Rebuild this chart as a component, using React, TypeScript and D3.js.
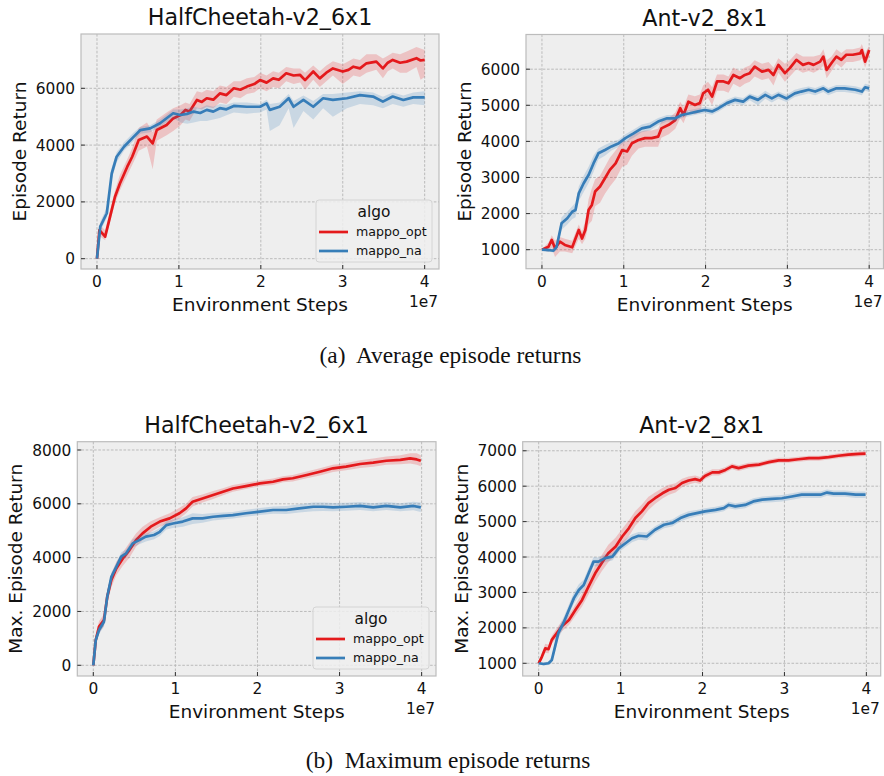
import React from 'react';
import * as d3 from 'd3';

type Row = [number, number, number, number]; // [env steps (1e7), mean, lower, upper]

// ---------- data ----------
const seriesNames = ['mappo_opt', 'mappo_na'];
const seriesColors = ['#e41a1c', '#377eb8'];
const xTicks = [0, 1, 2, 3, 4];
const hcAvgTicks = [0, 2000, 4000, 6000];
const antAvgTicks = [1000, 2000, 3000, 4000, 5000, 6000];
const hcMaxTicks = [0, 2000, 4000, 6000, 8000];
const antMaxTicks = [1000, 2000, 3000, 4000, 5000, 6000, 7000];

const hcAvgOpt: Row[] = [
  [0, 0, 0, 0], [0.03, 1010, 800, 1200], [0.10, 775, 650, 1000], [0.16, 1480, 1300, 1700],
  [0.22, 2180, 1950, 2400], [0.28, 2650, 2400, 2950], [0.37, 3240, 2950, 3500], [0.43, 3590, 3300, 3900],
  [0.51, 4180, 3800, 4600], [0.61, 4300, 3950, 4800], [0.68, 4060, 3150, 4450], [0.73, 4530, 4150, 4900],
  [0.85, 4710, 4350, 5150], [0.93, 4940, 4500, 5300], [1.02, 5060, 4700, 5400], [1.08, 5240, 4900, 5500],
  [1.13, 5180, 4850, 5450], [1.22, 5590, 5300, 5900], [1.28, 5520, 5250, 5850], [1.34, 5650, 5350, 5950],
  [1.42, 5600, 5300, 5900], [1.50, 5820, 5500, 6100], [1.58, 5760, 5450, 6050], [1.67, 6000, 5700, 6250],
  [1.75, 5950, 5650, 6250], [1.83, 6060, 5800, 6350], [1.92, 6150, 5850, 6400], [1.99, 6290, 6000, 6550],
  [2.07, 6200, 5900, 6450], [2.15, 6350, 6050, 6600], [2.22, 6300, 6000, 6550], [2.31, 6530, 6250, 6750],
  [2.40, 6450, 6150, 6700], [2.48, 6470, 6200, 6700], [2.54, 6290, 5950, 6550], [2.64, 6590, 6300, 6800],
  [2.72, 6350, 6050, 6600], [2.80, 6550, 6250, 6800], [2.88, 6700, 6450, 6950], [3.00, 6590, 6150, 6850],
  [3.07, 6650, 6300, 6950], [3.13, 6760, 6450, 7050], [3.21, 6700, 6400, 7000], [3.29, 6880, 6550, 7200],
  [3.41, 6940, 6650, 7200], [3.49, 6700, 6350, 7050], [3.55, 6900, 6600, 7150], [3.61, 7000, 6700, 7250],
  [3.70, 6900, 6550, 7200], [3.78, 6940, 6550, 7300], [3.90, 7060, 6750, 7450], [3.95, 6980, 6300, 7400],
  [4.0, 7000, 6400, 7350],
];
const hcAvgNa: Row[] = [
  [0, 0, 0, 0], [0.04, 1130, 950, 1300], [0.12, 1600, 1450, 1800], [0.18, 3000, 2800, 3200],
  [0.24, 3590, 3400, 3750], [0.33, 3940, 3800, 4100], [0.45, 4300, 4150, 4450], [0.53, 4530, 4400, 4650],
  [0.65, 4590, 4450, 4700], [0.77, 4770, 4650, 4900], [0.93, 5120, 4950, 5250], [1.02, 5060, 4800, 5250],
  [1.10, 5100, 4750, 5300], [1.18, 5180, 4800, 5350], [1.26, 5130, 4850, 5300], [1.34, 5240, 4850, 5400],
  [1.42, 5180, 4900, 5350], [1.50, 5300, 4950, 5450], [1.58, 5260, 5050, 5420], [1.67, 5380, 5150, 5500],
  [1.83, 5350, 5100, 5500], [1.99, 5350, 5150, 5450], [2.07, 5470, 5250, 5600], [2.11, 5240, 4500, 5450],
  [2.23, 5350, 4700, 5500], [2.34, 5650, 5300, 5800], [2.40, 5350, 4600, 5550], [2.52, 5590, 5200, 5750],
  [2.64, 5350, 4900, 5550], [2.76, 5650, 5300, 5800], [2.88, 5590, 5000, 5800], [3.05, 5650, 5300, 5850],
  [3.21, 5760, 5450, 5900], [3.37, 5710, 5400, 5850], [3.49, 5530, 5300, 5700], [3.61, 5710, 5450, 5850],
  [3.74, 5590, 5350, 5750], [3.86, 5680, 5450, 5850], [4.0, 5680, 5400, 5900],
];

const antAvgOpt: Row[] = [
  [0, 1000, 980, 1020], [0.08, 1080, 950, 1200], [0.12, 1270, 1050, 1400], [0.16, 1040, 800, 1250],
  [0.22, 1220, 950, 1350], [0.28, 1130, 950, 1300], [0.37, 1065, 900, 1250], [0.45, 1545, 1300, 1700],
  [0.49, 1310, 1150, 1500], [0.53, 1545, 1300, 1800], [0.57, 2100, 1700, 2400], [0.61, 2240, 1800, 2700],
  [0.65, 2610, 2200, 2950], [0.71, 2750, 2300, 3050], [0.77, 2980, 2550, 3300], [0.83, 3210, 2750, 3550],
  [0.90, 3390, 2950, 3750], [0.98, 3760, 3300, 4000], [1.04, 3720, 3350, 4000], [1.10, 3950, 3600, 4200],
  [1.18, 4040, 3800, 4250], [1.26, 4090, 3850, 4300], [1.34, 4090, 3850, 4300], [1.42, 4130, 3850, 4350],
  [1.46, 4360, 4100, 4550], [1.55, 4460, 4200, 4650], [1.63, 4590, 4350, 4800], [1.69, 4920, 4650, 5100],
  [1.73, 4730, 4500, 4950], [1.79, 5100, 4850, 5300], [1.87, 5010, 4750, 5250], [1.93, 5060, 4800, 5300],
  [1.97, 5330, 5100, 5550], [2.03, 5430, 5200, 5650], [2.08, 5240, 5000, 5500], [2.14, 5660, 5400, 5850],
  [2.22, 5660, 5400, 5850], [2.28, 5610, 5350, 5800], [2.34, 5840, 5600, 6050], [2.42, 5750, 5500, 5950],
  [2.48, 5840, 5600, 6050], [2.54, 5890, 5650, 6100], [2.60, 6070, 5800, 6250], [2.69, 5930, 5700, 6150],
  [2.77, 5980, 5750, 6200], [2.83, 5840, 5550, 6050], [2.89, 6120, 5900, 6300], [2.97, 5890, 5650, 6150],
  [3.03, 6030, 5800, 6250], [3.11, 6260, 6000, 6450], [3.19, 6120, 5900, 6350], [3.26, 6170, 5950, 6350],
  [3.32, 6120, 5900, 6350], [3.40, 6210, 6000, 6400], [3.44, 6350, 6100, 6550], [3.48, 5980, 5750, 6250],
  [3.54, 6170, 5950, 6350], [3.60, 6350, 6150, 6550], [3.66, 6260, 6050, 6450], [3.72, 6400, 6200, 6550],
  [3.80, 6400, 6200, 6550], [3.89, 6440, 6250, 6600], [3.91, 6530, 6300, 6700], [3.95, 6210, 6050, 6450],
  [4.0, 6530, 6350, 6650],
];
const antAvgNa: Row[] = [
  [0, 1000, 980, 1020], [0.08, 990, 950, 1030], [0.14, 970, 920, 1020], [0.18, 1080, 1000, 1200],
  [0.24, 1730, 1550, 1900], [0.31, 1870, 1700, 2050], [0.37, 2050, 1850, 2200], [0.41, 2100, 1900, 2300],
  [0.45, 2560, 2350, 2750], [0.51, 2840, 2600, 3050], [0.57, 3070, 2850, 3300], [0.63, 3390, 3150, 3600],
  [0.69, 3670, 3500, 3800], [0.77, 3760, 3600, 3900], [0.85, 3860, 3750, 3980], [0.94, 3950, 3850, 4050],
  [1.02, 4090, 3980, 4200], [1.12, 4220, 4100, 4330], [1.22, 4360, 4250, 4470], [1.32, 4410, 4300, 4520],
  [1.42, 4550, 4450, 4650], [1.53, 4640, 4550, 4730], [1.63, 4640, 4550, 4730], [1.71, 4730, 4650, 4820],
  [1.81, 4780, 4700, 4870], [1.91, 4830, 4750, 4920], [1.99, 4870, 4780, 4960], [2.08, 4830, 4740, 4920],
  [2.16, 4920, 4830, 5010], [2.26, 5060, 4970, 5150], [2.36, 5150, 5050, 5240], [2.46, 5100, 5000, 5200],
  [2.54, 5240, 5140, 5330], [2.64, 5150, 5000, 5250], [2.73, 5290, 5180, 5400], [2.81, 5190, 5080, 5290],
  [2.89, 5290, 5180, 5380], [2.99, 5190, 5090, 5290], [3.09, 5330, 5230, 5430], [3.17, 5380, 5280, 5480],
  [3.26, 5430, 5330, 5520], [3.34, 5380, 5280, 5480], [3.44, 5470, 5370, 5560], [3.50, 5380, 5280, 5480],
  [3.60, 5470, 5370, 5560], [3.70, 5470, 5370, 5560], [3.83, 5430, 5330, 5530], [3.91, 5380, 5280, 5480],
  [3.95, 5500, 5400, 5600], [4.0, 5470, 5370, 5570],
];

const hcMaxOpt: Row[] = [
  [0, 0, 0, 0], [0.03, 940, 750, 1150], [0.07, 1440, 1200, 1650], [0.13, 1680, 1450, 1900],
  [0.17, 2550, 2300, 2800], [0.22, 3170, 2900, 3400], [0.28, 3600, 3350, 3850], [0.36, 3970, 3700, 4200],
  [0.44, 4280, 4000, 4550], [0.52, 4650, 4400, 4900], [0.60, 4900, 4650, 5150], [0.70, 5150, 4950, 5350],
  [0.81, 5340, 5150, 5500], [0.93, 5460, 5300, 5650], [1.05, 5650, 5450, 5850], [1.13, 5830, 5650, 6000],
  [1.21, 6080, 5900, 6250], [1.33, 6200, 6050, 6350], [1.46, 6330, 6180, 6480], [1.58, 6450, 6320, 6580],
  [1.70, 6570, 6450, 6700], [1.86, 6660, 6550, 6780], [2.03, 6760, 6650, 6870], [2.19, 6820, 6700, 6940],
  [2.31, 6910, 6800, 7020], [2.43, 6950, 6830, 7070], [2.60, 7070, 6950, 7200], [2.76, 7190, 7050, 7320],
  [2.92, 7320, 7180, 7450], [3.08, 7380, 7250, 7520], [3.25, 7480, 7330, 7620], [3.41, 7530, 7380, 7680],
  [3.57, 7600, 7450, 7760], [3.74, 7630, 7470, 7800], [3.86, 7690, 7500, 7880], [3.94, 7650, 7450, 7880],
  [3.99, 7600, 7400, 7800],
];
const hcMaxNa: Row[] = [
  [0, 0, 0, 0], [0.03, 940, 800, 1100], [0.07, 1310, 1150, 1450], [0.13, 1620, 1450, 1800],
  [0.17, 2550, 2350, 2750], [0.22, 3290, 3100, 3450], [0.28, 3660, 3500, 3800], [0.34, 4040, 3900, 4200],
  [0.40, 4160, 4000, 4300], [0.48, 4530, 4380, 4680], [0.56, 4650, 4500, 4800], [0.64, 4780, 4600, 4900],
  [0.74, 4840, 4680, 4980], [0.81, 4960, 4800, 5100], [0.89, 5210, 5050, 5350], [0.97, 5270, 5100, 5420],
  [1.09, 5340, 5150, 5500], [1.21, 5460, 5250, 5650], [1.33, 5460, 5300, 5620], [1.46, 5520, 5380, 5660],
  [1.58, 5550, 5420, 5680], [1.70, 5580, 5450, 5700], [1.86, 5650, 5520, 5780], [2.03, 5710, 5580, 5840],
  [2.19, 5770, 5630, 5900], [2.35, 5770, 5620, 5920], [2.51, 5830, 5680, 5980], [2.68, 5890, 5720, 6050],
  [2.80, 5890, 5730, 6050], [2.92, 5870, 5720, 6030], [3.08, 5890, 5740, 6040], [3.25, 5920, 5770, 6070],
  [3.41, 5870, 5720, 6020], [3.57, 5920, 5770, 6070], [3.74, 5870, 5720, 6020], [3.90, 5920, 5760, 6080],
  [3.99, 5870, 5700, 6050],
];

const antMaxOpt: Row[] = [
  [0, 1000, 980, 1020], [0.04, 1190, 1100, 1300], [0.08, 1420, 1300, 1550], [0.12, 1400, 1280, 1520],
  [0.16, 1660, 1550, 1780], [0.22, 1850, 1720, 1980], [0.28, 2040, 1900, 2180], [0.37, 2220, 2080, 2360],
  [0.45, 2510, 2350, 2670], [0.53, 2790, 2600, 2980], [0.61, 3170, 2950, 3380], [0.69, 3540, 3300, 3760],
  [0.77, 3830, 3600, 4060], [0.85, 4110, 3850, 4350], [0.94, 4300, 4050, 4550], [1.02, 4580, 4350, 4800],
  [1.10, 4810, 4580, 5030], [1.18, 5100, 4880, 5300], [1.26, 5290, 5080, 5480], [1.34, 5520, 5330, 5700],
  [1.42, 5660, 5500, 5820], [1.51, 5800, 5650, 5950], [1.59, 5900, 5760, 6040], [1.67, 5950, 5820, 6080],
  [1.75, 6090, 5970, 6210], [1.83, 6160, 6050, 6270], [1.91, 6200, 6100, 6300], [1.97, 6160, 6060, 6260],
  [2.03, 6290, 6200, 6380], [2.12, 6390, 6300, 6480], [2.20, 6390, 6300, 6480], [2.28, 6460, 6380, 6540],
  [2.36, 6560, 6480, 6640], [2.44, 6510, 6430, 6590], [2.56, 6580, 6500, 6660], [2.69, 6610, 6540, 6680],
  [2.81, 6680, 6610, 6750], [2.93, 6730, 6660, 6800], [3.05, 6730, 6660, 6800], [3.17, 6760, 6690, 6830],
  [3.30, 6790, 6720, 6860], [3.42, 6790, 6720, 6860], [3.54, 6820, 6750, 6890], [3.66, 6860, 6790, 6930],
  [3.78, 6890, 6820, 6960], [3.91, 6910, 6840, 6980], [3.99, 6920, 6850, 6990],
];
const antMaxNa: Row[] = [
  [0, 1000, 980, 1020], [0.06, 980, 940, 1020], [0.12, 1000, 950, 1050], [0.16, 1090, 1000, 1200],
  [0.20, 1470, 1330, 1600], [0.24, 1850, 1700, 2000], [0.31, 2180, 2030, 2330], [0.37, 2510, 2350, 2670],
  [0.43, 2840, 2680, 3000], [0.49, 3070, 2900, 3230], [0.55, 3210, 3060, 3360], [0.61, 3540, 3380, 3700],
  [0.67, 3870, 3730, 4000], [0.73, 3870, 3750, 3990], [0.81, 3970, 3860, 4080], [0.90, 4010, 3900, 4120],
  [0.98, 4250, 4140, 4360], [1.06, 4390, 4280, 4500], [1.14, 4530, 4420, 4640], [1.22, 4600, 4490, 4710],
  [1.32, 4580, 4470, 4690], [1.42, 4770, 4670, 4870], [1.53, 4910, 4810, 5010], [1.63, 4960, 4860, 5060],
  [1.73, 5100, 5000, 5200], [1.83, 5190, 5090, 5290], [1.93, 5240, 5150, 5330], [2.03, 5290, 5200, 5380],
  [2.16, 5330, 5240, 5420], [2.26, 5380, 5290, 5470], [2.32, 5470, 5380, 5560], [2.40, 5430, 5340, 5520],
  [2.52, 5470, 5380, 5560], [2.62, 5570, 5480, 5660], [2.73, 5620, 5530, 5710], [2.85, 5640, 5550, 5730],
  [2.97, 5660, 5570, 5750], [3.09, 5710, 5620, 5800], [3.21, 5760, 5670, 5850], [3.34, 5760, 5670, 5850],
  [3.44, 5760, 5670, 5850], [3.52, 5820, 5730, 5910], [3.60, 5790, 5700, 5880], [3.74, 5790, 5700, 5880],
  [3.87, 5760, 5670, 5850], [3.99, 5760, 5670, 5850],
];

// ---------- rendering ----------
const SANS = '"DejaVu Sans", sans-serif';
const SERIF = '"Liberation Serif", "Times New Roman", serif';

type Box = { left: number; top: number; right: number; bottom: number };
type PanelProps = {
  box: Box;
  yDomain: [number, number];
  yTicks: number[];
  title: string;
  yLabel: string;
  series: Row[][];
  legend: boolean;
};

function Panel({ box, yDomain, yTicks, title, yLabel, series, legend }: PanelProps) {
  const x = d3.scaleLinear().domain([-0.195, 4.175]).range([box.left, box.right]);
  const y = d3.scaleLinear().domain(yDomain).range([box.bottom, box.top]);
  const line = d3.line<Row>().x((d) => x(d[0])).y((d) => y(d[1]));
  const area = d3.area<Row>().x((d) => x(d[0])).y0((d) => y(d[2])).y1((d) => y(d[3]));
  const clipId = `clip-${Math.round(box.left)}-${Math.round(box.top)}`;
  const cx = (box.left + box.right) / 2;
  const cy = (box.top + box.bottom) / 2;
  const lg = { w: 116, h: 62 };
  const lx = box.right - 7 - lg.w;
  const ly = box.bottom - 7 - lg.h;
  return (
    <g>
      <defs>
        <clipPath id={clipId}>
          <rect x={box.left} y={box.top} width={box.right - box.left} height={box.bottom - box.top} />
        </clipPath>
      </defs>
      <rect x={box.left} y={box.top} width={box.right - box.left} height={box.bottom - box.top} fill="#eeeeee" />
      {xTicks.map((t) => (
        <line key={'gx' + t} x1={x(t)} x2={x(t)} y1={box.top} y2={box.bottom} stroke="#b4b4b4" strokeWidth={0.9} strokeDasharray="2.6,1.6" />
      ))}
      {yTicks.map((t) => (
        <line key={'gy' + t} x1={box.left} x2={box.right} y1={y(t)} y2={y(t)} stroke="#b4b4b4" strokeWidth={0.9} strokeDasharray="2.6,1.6" />
      ))}
      <g clipPath={`url(#${clipId})`}>
        {series.map((s, i) => (
          <g key={i}>
            <path d={line(s) || ''} fill="none" stroke={seriesColors[i]} strokeWidth={2.7} strokeLinejoin="round" />
            <path d={area(s) || ''} fill={seriesColors[i]} fillOpacity={0.2} stroke="none" />
          </g>
        ))}
      </g>
      <rect x={box.left} y={box.top} width={box.right - box.left} height={box.bottom - box.top} fill="none" stroke="#bcbcbc" strokeWidth={1.2} />
      {xTicks.map((t) => (
        <g key={'tx' + t}>
          <line x1={x(t)} x2={x(t)} y1={box.bottom} y2={box.bottom - 4} stroke="#333" strokeWidth={1} />
          <text x={x(t)} y={box.bottom + 18} fontSize={15.4} textAnchor="middle" fill="#111" fontFamily={SANS}>{d3.format('d')(t)}</text>
        </g>
      ))}
      {yTicks.map((t) => (
        <g key={'ty' + t}>
          <line x1={box.left} x2={box.left + 4} y1={y(t)} y2={y(t)} stroke="#333" strokeWidth={1} />
          <text x={box.left - 6} y={y(t)} dy="0.36em" fontSize={15.4} textAnchor="end" fill="#111" fontFamily={SANS}>{d3.format('d')(t)}</text>
        </g>
      ))}
      <text x={box.right - 1} y={box.bottom + 38} fontSize={15.4} textAnchor="end" fill="#111" fontFamily={SANS}>1e7</text>
      <text x={cx} y={box.bottom + 42} fontSize={18.5} textAnchor="middle" fill="#111" fontFamily={SANS}>Environment Steps</text>
      <text transform={`translate(${box.left - 55},${cy}) rotate(-90)`} fontSize={18.5} textAnchor="middle" fill="#111" fontFamily={SANS}>{yLabel}</text>
      <text x={cx} y={box.top - 9} fontSize={22.2} textAnchor="middle" fill="#111" fontFamily={SANS}>{title}</text>
      {legend && (
        <g>
          <rect x={lx} y={ly} width={lg.w} height={lg.h} rx={3} fill="#eeeeee" fillOpacity={0.85} stroke="#d4d4d4" strokeWidth={1} />
          <text x={lx + lg.w / 2} y={ly + 17} fontSize={15.4} textAnchor="middle" fill="#111" fontFamily={SANS}>algo</text>
          {seriesNames.map((n, i) => (
            <g key={n}>
              <line x1={lx + 3} x2={lx + 32} y1={ly + 32 + i * 19} y2={ly + 32 + i * 19} stroke={seriesColors[i]} strokeWidth={2.7} />
              <text x={lx + 40} y={ly + 32 + i * 19} dy="0.33em" fontSize={12.6} fill="#111" fontFamily={SANS}>{n}</text>
            </g>
          ))}
        </g>
      )}
    </g>
  );
}

export default function App() {
  return (
    <svg width={884} height={776} viewBox="0 0 884 776" style={{ position: 'absolute', left: 0, top: 0, background: '#fff' }}>
      <rect width={884} height={776} fill="#fff" />
      <Panel box={{ left: 81, top: 34, right: 439, bottom: 269 }} yDomain={[-363, 7912]} yTicks={hcAvgTicks}
        title="HalfCheetah-v2_6x1" yLabel="Episode Return" series={[hcAvgOpt, hcAvgNa]} legend={true} />
      <Panel box={{ left: 526, top: 34.5, right: 883.5, bottom: 268.7 }} yDomain={[473, 6961]} yTicks={antAvgTicks}
        title="Ant-v2_8x1" yLabel="Episode Return" series={[antAvgOpt, antAvgNa]} legend={false} />
      <Panel box={{ left: 77.3, top: 441.7, right: 436, bottom: 676 }} yDomain={[-398, 8308]} yTicks={hcMaxTicks}
        title="HalfCheetah-v2_6x1" yLabel="Max. Episode Return" series={[hcMaxOpt, hcMaxNa]} legend={true} />
      <Panel box={{ left: 522.7, top: 441.7, right: 880.7, bottom: 676 }} yDomain={[641, 7256]} yTicks={antMaxTicks}
        title="Ant-v2_8x1" yLabel="Max. Episode Return" series={[antMaxOpt, antMaxNa]} legend={false} />
      <text x={450.5} y={363} fontSize={23.4} textAnchor="middle" fill="#111" fontFamily={SERIF} xmlSpace="preserve">(a)  Average episode returns</text>
      <text x={448} y={768} fontSize={23.4} textAnchor="middle" fill="#111" fontFamily={SERIF} xmlSpace="preserve">(b)  Maximum episode returns</text>
    </svg>
  );
}
